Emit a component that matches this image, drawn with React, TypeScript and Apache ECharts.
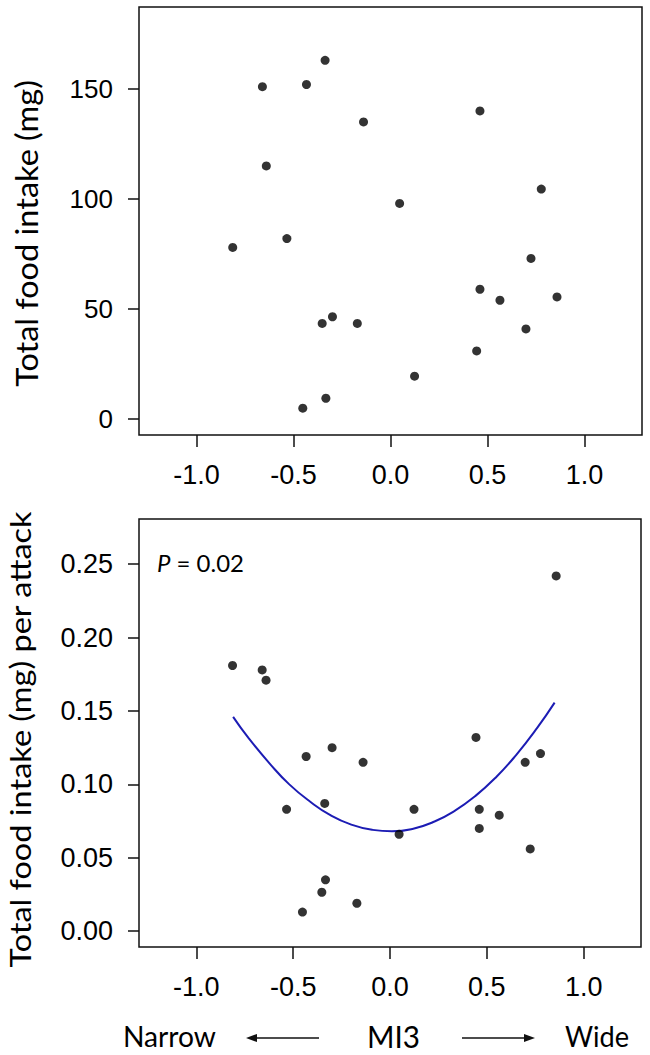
import React, { useEffect, useRef } from "react";
import * as echarts from "echarts";

// MI3 score of each individual
const mi3 = [
  -0.813, -0.66, -0.64, -0.534, -0.433, -0.452, -0.337, -0.333, -0.352, -0.299, -0.171,
  -0.139, 0.047, 0.124, 0.444, 0.461, 0.461, 0.564, 0.698, 0.724, 0.777, 0.858,
];
// Total food intake (mg)
const totalIntake = [
  78, 151, 115, 82, 152, 5, 163, 9.5, 43.5, 46.5, 43.5, 135, 98, 19.5, 31, 140, 59, 54, 41, 73,
  104.5, 55.5,
];
// Total food intake (mg) per attack
const intakePerAttack = [
  0.181, 0.178, 0.171, 0.083, 0.119, 0.013, 0.087, 0.035, 0.0265, 0.125, 0.019, 0.115, 0.066,
  0.083, 0.132, 0.083, 0.07, 0.079, 0.115, 0.056, 0.121, 0.242,
];
// Fitted quadratic curve (per attack)
const fitX = [
  -0.81, -0.73, -0.62, -0.52, -0.41, -0.31, -0.2, -0.09, 0.01, 0.12, 0.23, 0.33, 0.44, 0.55,
  0.65, 0.76, 0.85,
];
const fitY = [
  0.146, 0.1315, 0.114, 0.1, 0.088, 0.0792, 0.0726, 0.069, 0.068, 0.0698, 0.0747, 0.0816,
  0.092, 0.1052, 0.1198, 0.1385, 0.1557,
];

const xTicks = [-1, -0.5, 0, 0.5, 1];
const topYTicks = [0, 50, 100, 150];
const bottomYTicks = [0, 0.05, 0.1, 0.15, 0.2, 0.25];

const TICK_FONT = "'Liberation Sans', Arial, sans-serif";
const LABEL_FONT = "Lato, 'Open Sans', sans-serif";
const INK = "#111";

function measure(text: string, size: number, family: string, style = "normal") {
  const ctx = document.createElement("canvas").getContext("2d");
  if (!ctx) return text.length * size * 0.5;
  ctx.font = `${style} ${size}px ${family}`;
  return ctx.measureText(text).width;
}

// Vertical axis title, stretched along its reading direction to span a given length
function axisTitle(text: string, size: number, length: number, x: number, y: number) {
  const w = measure(text, size, "Lato");
  return {
    type: "text",
    x,
    y,
    rotation: Math.PI / 2,
    scaleX: length / w,
    scaleY: 1,
    style: {
      text,
      fontFamily: LABEL_FONT,
      fontSize: size,
      fill: "#000",
      align: "center",
      verticalAlign: "middle",
    },
  };
}

// Horizontal caption of a given size, fitted to a given width
function caption(text: string, size: number, width: number, left: number, y: number) {
  const w = measure(text, size, "Lato");
  return {
    type: "text",
    x: left,
    y,
    scaleX: width / w,
    style: {
      text,
      fontFamily: LABEL_FONT,
      fontSize: size,
      lineHeight: size,
      fill: "#000",
      align: "left",
      verticalAlign: "middle",
    },
  };
}

function xAxisFor(gridIndex: number) {
  return {
    gridIndex,
    type: "value",
    min: -1.296,
    max: 1.296,
    axisLine: { show: false, onZero: false },
    splitLine: { show: false },
    axisTick: {
      show: true,
      length: 12,
      customValues: xTicks,
      lineStyle: { color: INK, width: 1.5 },
    },
    axisLabel: {
      customValues: xTicks,
      margin: 26,
      fontSize: 27,
      fontFamily: TICK_FONT,
      color: "#000",
      formatter: (v: number) => v.toFixed(1),
    },
  };
}

function yAxisFor(
  gridIndex: number,
  min: number,
  max: number,
  ticks: number[],
  fontSize: number,
  digits: number
) {
  return {
    gridIndex,
    type: "value",
    min,
    max,
    axisLine: { show: false, onZero: false },
    splitLine: { show: false },
    axisTick: {
      show: true,
      length: 11,
      customValues: ticks,
      lineStyle: { color: INK, width: 1.5 },
    },
    axisLabel: {
      customValues: ticks,
      margin: 26,
      fontSize,
      fontFamily: TICK_FONT,
      color: "#000",
      formatter: (v: number) => v.toFixed(digits),
    },
  };
}

export default function App() {
  const ref = useRef<HTMLDivElement>(null);

  useEffect(() => {
    if (!ref.current) return;
    const chart = echarts.init(ref.current, undefined, { renderer: "svg" });

    const pText = " = 0.02";
    const pWidth = measure("P", 23, "Lato", "italic") + measure(pText, 23, "Lato");

    chart.setOption({
      animation: false,
      backgroundColor: "#fff",
      grid: [
        {
          left: 139,
          top: 7,
          width: 503,
          height: 428,
          show: true,
          borderColor: INK,
          borderWidth: 1.5,
          backgroundColor: "transparent",
        },
        {
          left: 139,
          top: 519,
          width: 502,
          height: 428,
          show: true,
          borderColor: INK,
          borderWidth: 1.5,
          backgroundColor: "transparent",
        },
      ],
      xAxis: [xAxisFor(0), xAxisFor(1)],
      yAxis: [
        yAxisFor(0, -7.2, 187.2, topYTicks, 26, 0),
        yAxisFor(1, -0.0108, 0.2808, bottomYTicks, 27, 2),
      ],
      series: [
        {
          type: "scatter",
          xAxisIndex: 0,
          yAxisIndex: 0,
          symbolSize: 9,
          itemStyle: { color: "#000" },
          data: mi3.map((x, i) => [x, totalIntake[i]]),
        },
        {
          type: "line",
          xAxisIndex: 1,
          yAxisIndex: 1,
          smooth: true,
          showSymbol: false,
          lineStyle: { color: "#1c1cb4", width: 2 },
          data: fitX.map((x, i) => [x, fitY[i]]),
          z: 1,
        },
        {
          type: "scatter",
          xAxisIndex: 1,
          yAxisIndex: 1,
          symbolSize: 9,
          itemStyle: { color: "#000" },
          data: mi3.map((x, i) => [x, intakePerAttack[i]]),
          z: 3,
        },
      ],
      graphic: [
        axisTitle("Total food intake (mg)", 31, 307, 26, 233.5),
        axisTitle("Total food intake (mg) per attack", 29, 457, 20, 739.5),
        caption("Narrow", 28, 93, 123, 1036),
        caption("MI3", 30, 53, 367, 1036),
        caption("Wide", 28, 64, 565, 1036),
        {
          type: "text",
          x: 157,
          y: 563,
          scaleX: 87 / pWidth,
          style: {
            text: "{i|P}" + pText,
            fontFamily: LABEL_FONT,
            fontSize: 23,
            fill: "#000",
            align: "left",
            verticalAlign: "middle",
            rich: { i: { fontStyle: "italic", fontFamily: LABEL_FONT, fontSize: 23 } },
          },
        },
        {
          type: "line",
          shape: { x1: 254, y1: 1038, x2: 319, y2: 1038 },
          style: { stroke: INK, lineWidth: 1.3 },
        },
        {
          type: "polygon",
          shape: { points: [[246, 1038], [257, 1034], [257, 1042]] },
          style: { fill: INK },
        },
        {
          type: "line",
          shape: { x1: 462, y1: 1038, x2: 527, y2: 1038 },
          style: { stroke: INK, lineWidth: 1.3 },
        },
        {
          type: "polygon",
          shape: { points: [[535, 1038], [524, 1034], [524, 1042]] },
          style: { fill: INK },
        },
      ],
    });

    return () => chart.dispose();
  }, []);

  return (
    <div
      ref={ref}
      style={{ position: "fixed", left: 0, top: 0, width: 650, height: 1055, background: "#fff" }}
    />
  );
}
